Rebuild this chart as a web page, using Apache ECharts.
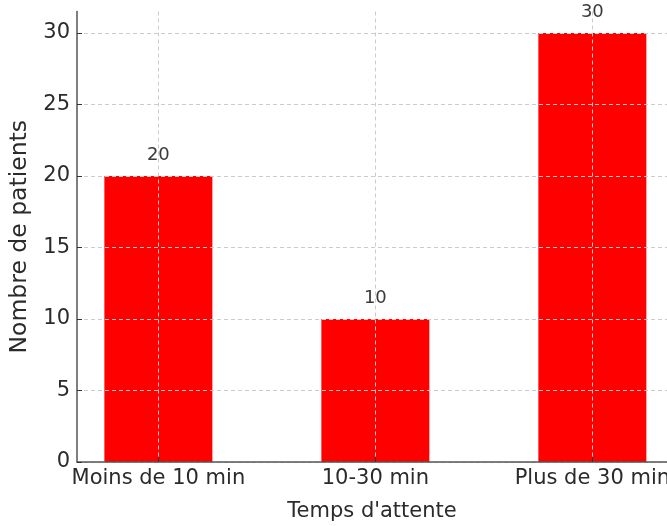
<!DOCTYPE html>
<html>
<head>
<meta charset="utf-8">
<script src="https://cdn.jsdelivr.net/npm/echarts@6/dist/echarts.min.js"></script>
<style>html,body{margin:0;padding:0;background:#fff}#c{width:667px;height:526px}</style>
</head>
<body>
<div id="c"></div>
<script>
const categories = ['Moins de 10 min', '10-30 min', 'Plus de 30 min'];
const patients = [20, 10, 30];
const yTicks = [0, 5, 10, 15, 20, 25, 30];
const xTitle = "Temps d'attente";
const yTitle = 'Nombre de patients';

const font = 'DejaVu Sans';
const positions = categories.map((c, i) => i);
const chart = echarts.init(document.getElementById('c'), null, {renderer: 'canvas'});
chart.setOption({
  animation: false,
  textStyle: {fontFamily: font},
  grid: {left: 77, top: 11.5, right: 0, bottom: 64, containLabel: false, outerBoundsMode: 'none'},
  xAxis: {
    type: 'value', min: -0.375, max: 2.344, z: 5,
    name: xTitle, nameLocation: 'middle', nameGap: 39,
    nameTextStyle: {fontFamily: font, fontSize: 21, color: '#2b2b2b'},
    axisLine: {show: true, onZero: false, lineStyle: {color: '#555', width: 1.5}},
    axisTick: {show: true, inside: true, length: 5, customValues: positions, lineStyle: {color: '#333'}},
    axisLabel: {customValues: positions, margin: 6, fontFamily: font, fontSize: 21, color: '#2b2b2b',
      formatter: v => categories[Math.round(v)] || ''},
    splitLine: {show: true, lineStyle: {color: '#cccccc', type: [4, 3], width: 1}}
  },
  yAxis: {
    type: 'value', min: 0, max: 31.5, z: 5,
    name: yTitle, nameLocation: 'middle', nameGap: 30, nameRotate: 90,
    nameTextStyle: {fontFamily: font, fontSize: 23.5, color: '#2b2b2b'},
    axisLine: {show: true, onZero: false, lineStyle: {color: '#555', width: 1.5}},
    axisTick: {show: true, inside: true, length: 5, customValues: yTicks, lineStyle: {color: '#333'}},
    axisLabel: {customValues: yTicks, margin: 7, fontFamily: font, fontSize: 21, color: '#2b2b2b'},
    splitLine: {show: true, lineStyle: {color: '#cccccc', type: [4, 3], width: 1}}
  },
  series: [{
    type: 'bar',
    data: categories.map((c, i) => [i, patients[i]]),
    barWidth: 108,
    itemStyle: {color: '#ff0000'},
    label: {show: true, position: 'top', distance: 12, fontFamily: font, fontSize: 18, color: '#3a3a3a',
      formatter: p => String(p.value[1])}
  }]
});
</script>
</body>
</html>
